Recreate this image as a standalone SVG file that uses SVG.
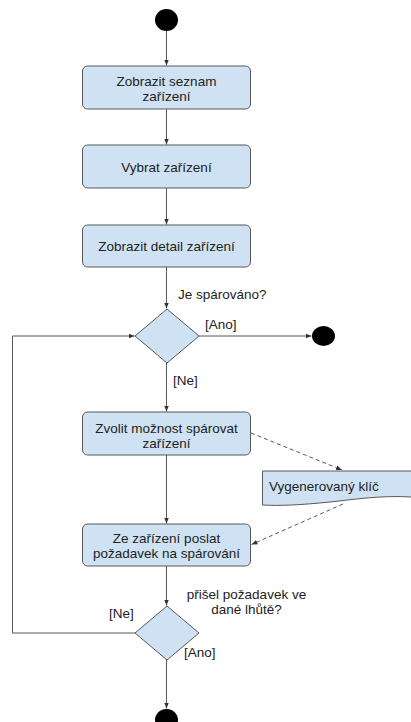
<svg xmlns="http://www.w3.org/2000/svg" width="411" height="722" viewBox="0 0 411 722">
  <style>
    .bg { fill: #ffffff; }
    .action { fill: #cfe2f3; stroke: #595959; stroke-width: 1; }
    .decision { fill: #cfe2f3; stroke: #595959; stroke-width: 1; }
    .terminal { fill: #000000; }
    .flow { fill: none; stroke: #595959; stroke-width: 1; }
    .dashed { fill: none; stroke: #595959; stroke-width: 1; stroke-dasharray: 4 3; }
    text { font-family: "Liberation Sans", Arial, sans-serif; font-size: 13.5px; fill: #222222; }
    .c { text-anchor: middle; }
  </style>
  <defs>
    <marker id="arrow" viewBox="0 0 10 10" refX="10" refY="5" markerWidth="6" markerHeight="6" markerUnits="userSpaceOnUse" orient="auto">
      <path d="M0,1 L10,5 L0,9 z" fill="#333333"/>
    </marker>
  </defs>
  <rect class="bg" x="0" y="0" width="411" height="722"/>

  <g id="connectors">
    <line class="flow" x1="166.5" y1="31" x2="166.5" y2="65.5" marker-end="url(#arrow)"/>
    <line class="flow" x1="166.5" y1="109" x2="166.5" y2="144.5" marker-end="url(#arrow)"/>
    <line class="flow" x1="166.5" y1="188" x2="166.5" y2="224.5" marker-end="url(#arrow)"/>
    <line class="flow" x1="166.5" y1="267" x2="166.5" y2="308.5" marker-end="url(#arrow)"/>
    <line class="flow" x1="199" y1="336" x2="311.5" y2="336" marker-end="url(#arrow)"/>
    <line class="flow" x1="166.5" y1="363" x2="166.5" y2="411.5" marker-end="url(#arrow)"/>
    <line class="flow" x1="166.5" y1="455" x2="166.5" y2="523.5" marker-end="url(#arrow)"/>
    <line class="flow" x1="166.5" y1="566" x2="166.5" y2="605.5" marker-end="url(#arrow)"/>
    <line class="flow" x1="166.5" y1="660" x2="166.5" y2="708.5" marker-end="url(#arrow)"/>
    <polyline class="flow" points="135,633 12.5,633 12.5,336 134.5,336" marker-end="url(#arrow)"/>
    <line class="dashed" x1="251" y1="433" x2="342" y2="470" marker-end="url(#arrow)"/>
    <line class="dashed" x1="343" y1="504" x2="251.5" y2="544.5" marker-end="url(#arrow)"/>
  </g>

  <g id="start">
    <ellipse class="terminal" cx="166.5" cy="20" rx="11.5" ry="11"/>
  </g>

  <g id="show-list">
    <rect class="action" x="82.5" y="66" width="168" height="43" rx="5"/>
    <text class="c" x="166.5" y="86">Zobrazit seznam</text>
    <text class="c" x="166.5" y="101">zařízení</text>
  </g>

  <g id="select-device">
    <rect class="action" x="82.5" y="145" width="168" height="43" rx="5"/>
    <text class="c" x="166.5" y="172">Vybrat zařízení</text>
  </g>

  <g id="show-detail">
    <rect class="action" x="82.5" y="225" width="168" height="42" rx="5"/>
    <text class="c" x="166.5" y="251">Zobrazit detail zařízení</text>
  </g>

  <g id="is-paired">
    <polygon class="decision" points="167,309 199,336 167,363 135,336"/>
    <text x="178" y="299">Je spárováno?</text>
    <text x="205" y="329">[Ano]</text>
    <text x="173" y="385">[Ne]</text>
  </g>

  <g id="end-paired">
    <ellipse class="terminal" cx="323.5" cy="336" rx="11.5" ry="10"/>
  </g>

  <g id="choose-pairing">
    <rect class="action" x="82.5" y="412" width="168" height="43" rx="5"/>
    <text class="c" x="166.5" y="432.5">Zvolit možnost spárovat</text>
    <text class="c" x="166.5" y="447.5">zařízení</text>
  </g>

  <g id="generated-key">
    <path class="action" d="M262.5,471 L412,471 L412,497 C380,495 350,500 330,502 C300,505 280,506 262.5,505 Z"/>
    <text x="269" y="491">Vygenerovaný klíč</text>
  </g>

  <g id="send-request">
    <rect class="action" x="82.5" y="524" width="168" height="42" rx="5"/>
    <text class="c" x="166.5" y="542.5">Ze zařízení poslat</text>
    <text class="c" x="166.5" y="557.5">požadavek na spárování</text>
  </g>

  <g id="request-in-time">
    <polygon class="decision" points="167,606 199,633 167,660 135,633"/>
    <text class="c" x="246.5" y="599">přišel požadavek ve</text>
    <text class="c" x="246.5" y="614">dané lhůtě?</text>
    <text x="109" y="618">[Ne]</text>
    <text x="184" y="657">[Ano]</text>
  </g>

  <g id="end">
    <ellipse class="terminal" cx="166.5" cy="720" rx="11.5" ry="11"/>
  </g>
</svg>
